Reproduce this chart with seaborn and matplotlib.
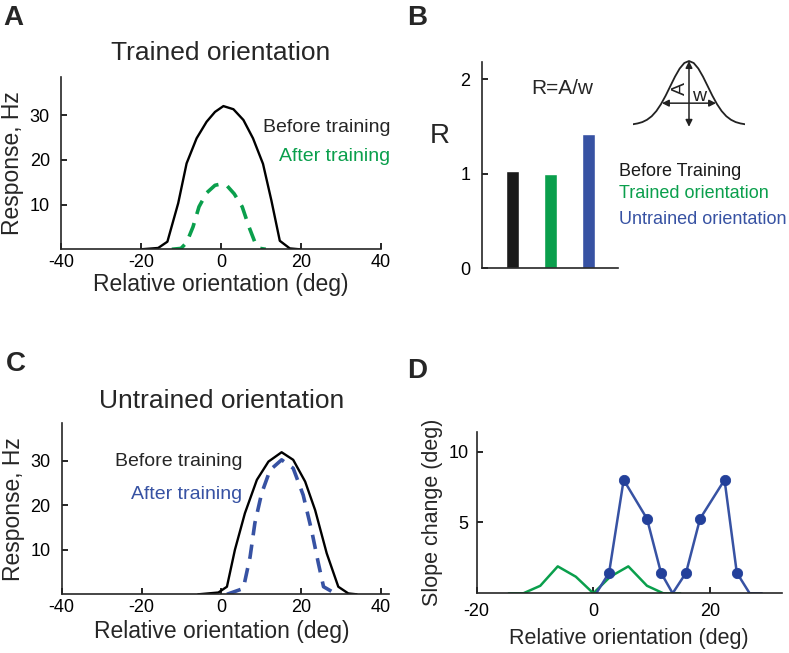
import numpy as np
import pandas as pd
import seaborn as sns
import matplotlib.pyplot as plt

# Panel A: trained orientation tuning curves
a_before_x = [-20, -15.7, -13.4, -10.7, -8.6, -6.1, -3.6, -1.5, 0.6, 3.1, 5.6, 8.0, 10.5, 12.6, 14.7, 17.2, 19.7]
a_before_y = [0, 0.3, 1.7, 10.3, 19.2, 24.8, 28.5, 30.7, 32.0, 31.3, 28.9, 24.8, 19.1, 10.9, 1.9, 0.2, 0]
a_after_x = [-12.3, -10, -8.6, -7, -5.5, -3.6, -1.5, 0, 1.5, 3.3, 5.3, 7, 8.6, 9.8, 11.2]
a_after_y = [0, 0.2, 1.5, 5, 9.5, 12.6, 14.3, 14.6, 14.2, 12.4, 9.5, 5, 1.3, 0.2, 0]

# Panel B: R = A/w
b_labels = ['Before Training', 'Trained orientation', 'Untrained orientation']
b_values = [1.03, 1.0, 1.415]

# schematic bell curve for the inset
inset_x = [-3, -2.75, -2.5, -2.25, -2, -1.75, -1.5, -1.25, -1, -0.75, -0.5, -0.25, 0,
           0.25, 0.5, 0.75, 1, 1.25, 1.5, 1.75, 2, 2.25, 2.5, 2.75, 3]
inset_y = [0.01, 0.023, 0.044, 0.08, 0.135, 0.216, 0.325, 0.458, 0.607, 0.755, 0.882, 0.969, 1.0,
           0.969, 0.882, 0.755, 0.607, 0.458, 0.325, 0.216, 0.135, 0.08, 0.044, 0.023, 0.01]

# Panel C: untrained orientation tuning curves
c_before_x = [-5.8, -0.75, 1.4, 3.4, 5.9, 8.9, 11.8, 15.1, 18.0, 21.0, 23.5, 26.4, 29.3, 31.8, 33.9]
c_before_y = [0, 0.4, 1.7, 10, 18.2, 25.7, 29.8, 31.9, 30.2, 25.3, 18.9, 9.2, 1.7, 0.2, 0]
c_after_x = [1.4, 5.5, 7.2, 8.4, 10.1, 12.2, 15.1, 18.0, 20.5, 22.6, 24.3, 25.6, 28.9]
c_after_y = [0, 1.3, 8.4, 16, 22.7, 27.9, 30.2, 28.3, 22.3, 14.4, 7.0, 1.7, 0]

# Panel D: slope change
d_green_x = [-14.5, -12, -9.1, -6.1, -3.0, 0, 2.9, 6.0, 9.2, 12.0, 14.9]
d_green_y = [0, 0, 0.53, 1.9, 1.17, 0, 1.17, 1.9, 0.53, 0, 0]
d_blue_x = [0.5, 2.7, 5.2, 9.2, 11.6, 13.6, 15.9, 18.3, 22.5, 24.6, 26.8, 28.9]
d_blue_y = [0, 1.45, 8.0, 5.26, 1.45, 0, 1.45, 5.26, 8.0, 1.45, 0, 0]
d_blue_dot = [False, True, True, True, True, False, True, True, True, True, False, False]

GREEN = '#0a9f4c'
BLUE = '#3752a3'
DBLUE = '#23409a'

sns.set_style('ticks')
plt.rcParams['font.family'] = ['Liberation Sans', 'DejaVu Sans']
plt.rcParams['xtick.direction'] = 'in'
plt.rcParams['ytick.direction'] = 'in'
plt.rcParams['axes.linewidth'] = 1.2
plt.rcParams['axes.unicode_minus'] = False

W, H = 789, 653
fig = plt.figure(figsize=(W / 100, H / 100), dpi=100)


def px_axes(x0, x1, ytop, ybot):
    return fig.add_axes([x0 / W, 1 - ybot / H, (x1 - x0) / W, (ybot - ytop) / H])


def style(ax, lsize=16.5, tsize=13):
    sns.despine(ax=ax)
    ax.tick_params(length=4, width=1.2, labelsize=tsize, colors='black')
    ax.xaxis.label.set_size(lsize)
    ax.yaxis.label.set_size(lsize)


dash = (0, (4, 2.6))

# ---- A ----
axA = px_axes(61, 381, 77, 249.3)
sns.lineplot(x=a_before_x, y=a_before_y, ax=axA, color='black', lw=1.7, sort=False)
sns.lineplot(x=a_after_x, y=a_after_y, ax=axA, color=GREEN, lw=2.6, linestyle=dash, sort=False)
axA.set_xlim(-40, 40)
axA.set_ylim(0, 38.5)
axA.set_xticks([-40, -20, 0, 20, 40])
axA.set_yticks([10, 20, 30])
axA.set_xlabel('Relative orientation (deg)', labelpad=1)
axA.set_ylabel('Response, Hz', labelpad=4)
axA.set_title('Trained orientation', fontsize=19, pad=12)
style(axA)
axA.tick_params(axis='y', pad=8)
axA.text(42.3, 27.3, 'Before training', ha='right', va='center', fontsize=14, clip_on=False)
axA.text(42.3, 20.8, 'After training', ha='right', va='center', fontsize=14, color=GREEN, clip_on=False)

# ---- B ----
axB = px_axes(481.7, 618, 62.3, 268)
dfb = pd.DataFrame({'cond': b_labels, 'R': b_values})
sns.barplot(data=dfb, x='cond', y='R', hue='cond', palette=['#1a1a1a', GREEN, BLUE],
            width=0.34, legend=False, ax=axB, saturation=1)
axB.set_xlim(-0.81, 2.78)
axB.set_ylim(0, 2.18)
axB.set_yticks([0, 1, 2])
axB.set_xticks([])
axB.set_xlabel('')
axB.set_ylabel('R', rotation=0, fontsize=17)
axB.yaxis.set_label_coords(-0.31, 0.58)
style(axB, lsize=20)
axB.tick_params(axis='y', pad=8)
axB.text(1.3, 1.9, 'R=A/w', ha='center', va='center', fontsize=15)
for lab, col, yy in zip(b_labels, ['#1a1a1a', GREEN, BLUE], [171, 194, 220]):
    fig.text(619 / W, 1 - yy / H, lab, ha='left', va='center', fontsize=13, color=col)

# inset schematic
axI = px_axes(633, 745, 58, 130)
sns.lineplot(x=inset_x, y=inset_y, ax=axI, color='#222222', lw=1.3, sort=False)
axI.set_xlim(-3, 3)
axI.set_ylim(-0.08, 1.047)
axI.axis('off')
arr = dict(arrowstyle='<|-|>', color='#222222', lw=1.1, mutation_scale=10, shrinkA=0, shrinkB=0)
axI.annotate('', xy=(0, 1.0), xytext=(0, -0.03), arrowprops=arr)
axI.annotate('', xy=(-1.45, 0.34), xytext=(1.45, 0.34), arrowprops=arr)
axI.text(-0.45, 0.57, 'A', rotation=90, ha='center', va='center', fontsize=14, color='#222222')
axI.text(0.55, 0.45, 'w', ha='center', va='center', fontsize=14, color='#222222')

# ---- C ----
axC = px_axes(61.7, 381, 423.3, 594.3)
sns.lineplot(x=c_before_x, y=c_before_y, ax=axC, color='black', lw=1.7, sort=False)
sns.lineplot(x=c_after_x, y=c_after_y, ax=axC, color=BLUE, lw=2.6, linestyle=dash, sort=False)
axC.set_xlim(-40, 40)
axC.set_ylim(0, 38.4)
axC.set_xticks([-40, -20, 0, 20, 40])
axC.set_yticks([10, 20, 30])
axC.set_xlabel('Relative orientation (deg)', labelpad=3)
axC.set_ylabel('Response, Hz', labelpad=4)
axC.set_title('Untrained orientation', fontsize=19, pad=11)
style(axC)
axC.tick_params(axis='y', pad=8)
axC.spines['bottom'].set_bounds(-40, 42)
axC.text(5.2, 29.8, 'Before training', ha='right', va='center', fontsize=14)
axC.text(5.2, 22.5, 'After training', ha='right', va='center', fontsize=14, color=BLUE)

# ---- D ----
axD = px_axes(476.7, 781.7, 431.7, 593.3)
sns.lineplot(x=d_green_x, y=d_green_y, ax=axD, color=GREEN, lw=1.8, sort=False)
sns.lineplot(x=d_blue_x, y=d_blue_y, ax=axD, color=BLUE, lw=1.8, sort=False)
dots = pd.DataFrame({'x': d_blue_x, 'y': d_blue_y, 'dot': d_blue_dot})
dots = dots[dots['dot']]
sns.scatterplot(data=dots, x='x', y='y', ax=axD, color=DBLUE, s=55, edgecolor=DBLUE, zorder=3)
axD.set_xlim(-20, 32.3)
axD.set_ylim(0, 11.4)
axD.set_xticks([-20, 0, 20])
axD.set_yticks([5, 10])
axD.set_xlabel('Relative orientation (deg)', labelpad=6)
axD.set_ylabel('Slope change (deg)', labelpad=4)
style(axD, lsize=15.5)
axD.tick_params(axis='x', pad=7)
axD.tick_params(axis='y', pad=6)

# panel letters
for letter, x, y in [('A', 3, 25), ('B', 407, 25), ('C', 6, 371), ('D', 407, 378)]:
    fig.text(x / W, 1 - y / H, letter, fontsize=20, fontweight='bold', ha='left', va='baseline')

fig.savefig('out.png', dpi=100)
